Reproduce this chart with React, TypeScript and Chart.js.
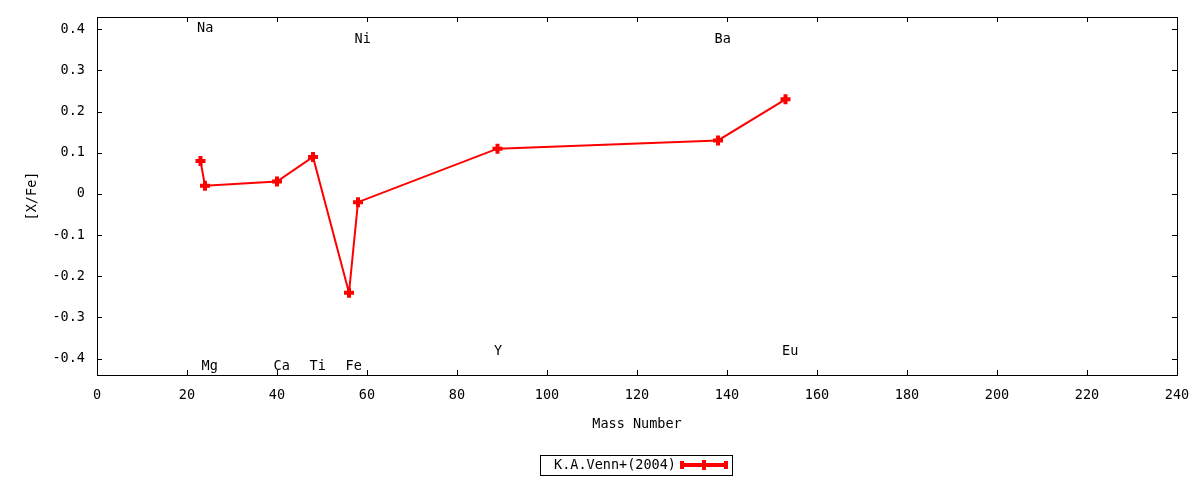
import { useEffect, useRef } from 'react';
import { Chart, registerables } from 'chart.js';

Chart.register(...registerables);

const elements = ['Na', 'Mg', 'Ca', 'Ti', 'Fe', 'Ni', 'Y', 'Ba', 'Eu'];
const massNumbers = [23, 24, 40, 48, 56, 58, 89, 138, 153];
const xFeValues = [0.08, 0.02, 0.03, 0.09, -0.24, -0.02, 0.11, 0.13, 0.23];
// where each element name sits (in [X/Fe] units)
const labelLevels = [0.405, -0.415, -0.415, -0.415, -0.415, 0.38, -0.38, 0.38, -0.38];

const xTicks = [0, 20, 40, 60, 80, 100, 120, 140, 160, 180, 200, 220, 240];
const yTicks = [-0.4, -0.3, -0.2, -0.1, 0, 0.1, 0.2, 0.3, 0.4];

const seriesLabel = 'K.A.Venn+(2004)';
const FONT = "'DejaVu Sans Mono', monospace";
const RED = '#ff0000';

// gnuplot-ish frame with inward ticks on all four sides
const framePlugin = {
  id: 'frame',
  afterDraw(chart: any) {
    const { ctx, chartArea: a, scales } = chart;
    ctx.save();
    ctx.strokeStyle = '#000';
    ctx.lineWidth = 1;
    ctx.strokeRect(Math.round(a.left) + 0.5, Math.round(a.top) + 0.5, Math.round(a.right - a.left), Math.round(a.bottom - a.top));
    ctx.beginPath();
    xTicks.forEach((v) => {
      const px = Math.round(scales.x.getPixelForValue(v)) + 0.5;
      ctx.moveTo(px, a.bottom); ctx.lineTo(px, a.bottom - 5);
      ctx.moveTo(px, a.top); ctx.lineTo(px, a.top + 5);
    });
    yTicks.forEach((v) => {
      const py = Math.round(scales.y.getPixelForValue(v)) + 0.5;
      ctx.moveTo(a.left, py); ctx.lineTo(a.left + 5, py);
      ctx.moveTo(a.right, py); ctx.lineTo(a.right - 5, py);
    });
    ctx.stroke();
    ctx.restore();
  },
};

const elementLabels = {
  id: 'elementLabels',
  afterDatasetsDraw(chart: any) {
    const { ctx, scales } = chart;
    ctx.save();
    ctx.font = `13.5px ${FONT}`;
    ctx.fillStyle = '#000';
    ctx.textAlign = 'left';
    ctx.textBaseline = 'middle';
    elements.forEach((name, i) => {
      const px = scales.x.getPixelForValue(massNumbers[i]) - 3.5;
      const py = scales.y.getPixelForValue(labelLevels[i]) + 1.5;
      ctx.fillText(name, px, py);
    });
    ctx.restore();
  },
};

const boxLegend = {
  id: 'boxLegend',
  afterDraw(chart: any) {
    const { ctx, chartArea: a } = chart;
    const cx = (a.left + a.right) / 2;
    const w = 192, h = 20, top = 455;
    const left = Math.round(cx - w / 2) - 1;
    const mid = top + h / 2;
    ctx.save();
    ctx.strokeStyle = '#000';
    ctx.lineWidth = 1;
    ctx.strokeRect(left + 0.5, top + 0.5, w, h);
    ctx.font = `13.5px ${FONT}`;
    ctx.fillStyle = '#000';
    ctx.textAlign = 'left';
    ctx.textBaseline = 'middle';
    ctx.fillText(seriesLabel, left + 14, mid + 0.5);
    // sample line with end caps and marker
    const x0 = left + 142, x1 = left + 186;
    ctx.strokeStyle = RED;
    ctx.lineWidth = 4;
    ctx.beginPath();
    ctx.moveTo(x0, mid); ctx.lineTo(x1, mid);
    ctx.moveTo(x0, mid - 4); ctx.lineTo(x0, mid + 4);
    ctx.moveTo(x1, mid - 4); ctx.lineTo(x1, mid + 4);
    const xm = (x0 + x1) / 2;
    ctx.moveTo(xm, mid - 5); ctx.lineTo(xm, mid + 5);
    ctx.stroke();
    ctx.restore();
  },
};

export default function App() {
  const chartRef = useRef<HTMLCanvasElement>(null);

  useEffect(() => {
    document.body.style.margin = '0';
    if (!chartRef.current) return;
    const ctx = chartRef.current.getContext('2d');
    if (!ctx) return;

    const chart = new Chart(ctx, {
      type: 'line',
      data: {
        datasets: [{
          label: seriesLabel,
          data: massNumbers.map((m, i) => ({ x: m, y: xFeValues[i] })),
          borderColor: RED,
          backgroundColor: RED,
          borderWidth: 2,
          pointStyle: 'cross',
          pointRadius: 5,
          pointBorderWidth: 4,
          pointBorderColor: RED,
          tension: 0,
        }],
      },
      options: {
        responsive: true,
        maintainAspectRatio: false,
        animation: false,
        layout: { padding: { top: 17, right: 23, left: 0, bottom: 0 } },
        plugins: {
          legend: { display: false },
          tooltip: { enabled: false },
        },
        scales: {
          x: {
            type: 'linear',
            position: 'bottom',
            min: 0,
            max: 240,
            afterBuildTicks: (s: any) => { s.ticks = xTicks.map((v) => ({ value: v })); },
            afterFit: (s: any) => { s.height = 105; s.paddingLeft = 0; s.paddingRight = 0; },
            grid: { display: false, drawTicks: false },
            border: { display: false },
            ticks: {
              color: '#000',
              padding: 12,
              maxRotation: 0,
              font: { family: FONT, size: 13.5 },
              callback: (v: any) => String(v),
            },
            title: {
              display: true,
              text: 'Mass Number',
              color: '#000',
              font: { family: FONT, size: 13.5 },
              padding: { top: 0, bottom: 47 },
            },
          },
          y: {
            type: 'linear',
            min: -0.44,
            max: 0.43,
            afterBuildTicks: (s: any) => { s.ticks = yTicks.map((v) => ({ value: v })); },
            afterFit: (s: any) => { s.width = 97; s.paddingTop = 0; s.paddingBottom = 0; },
            grid: { display: false, drawTicks: false },
            border: { display: false },
            ticks: {
              color: '#000',
              padding: 12,
              font: { family: FONT, size: 13.5 },
              callback: (v: any) => (Math.abs(v) < 1e-9 ? '0' : Number(v).toFixed(1)),
            },
            title: {
              display: true,
              text: '[X/Fe]',
              color: '#000',
              font: { family: FONT, size: 13.5 },
              padding: { top: 24, bottom: 0 },
            },
          },
        },
      },
      plugins: [framePlugin, elementLabels, boxLegend],
    });

    return () => chart.destroy();
  }, []);

  return (
    <div style={{ width: 1200, height: 480, background: '#fff' }}>
      <canvas ref={chartRef} />
    </div>
  );
}
